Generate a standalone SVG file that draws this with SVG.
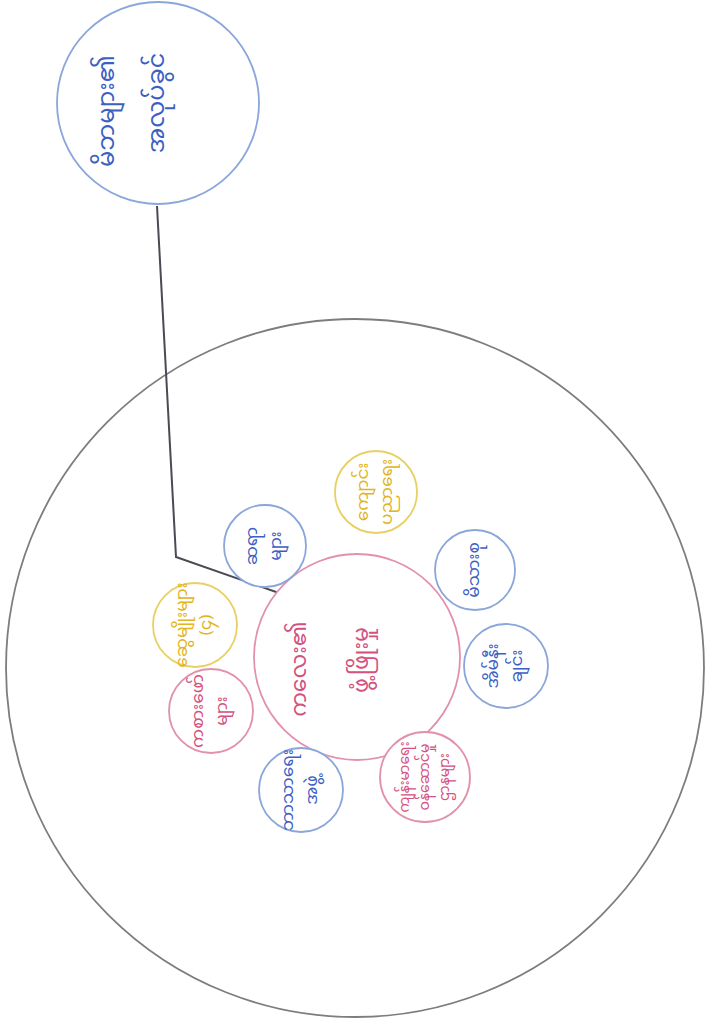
<svg xmlns="http://www.w3.org/2000/svg" width="707" height="1020" viewBox="0 0 707 1020">
<style>
  text { font-family: "Noto Sans Myanmar", "Noto Sans", "DejaVu Sans", sans-serif; text-anchor: middle; dominant-baseline: central; }
  .cb { fill: #ffffff; stroke: #8aa6da; stroke-width: 1.8; }
  .cp { fill: #ffffff; stroke: #e290b0; stroke-width: 1.8; }
  .cy { fill: #ffffff; stroke: #e8d064; stroke-width: 1.8; }
  .tb { fill: #3d5fc2; font-size: 17px; }
  .tp { fill: #d4527e; font-size: 17px; }
  .ty { fill: #e2b422; font-size: 17px; }
  .conn { fill: none; stroke: #4a4a52; stroke-width: 2; }
</style>
<rect width="707" height="1020" fill="#ffffff"/>
<g id="outer">
  <circle cx="355" cy="668" r="349" fill="none" stroke="#7d7d7d" stroke-width="1.8"/>
</g>
<g id="connectors">
  <polyline class="conn" points="157,206 176,557 279,593"/>
</g>
<g id="top-node">
  <circle cx="158" cy="103" r="101" class="cb"/>
  <g transform="translate(158,103) rotate(-90)">
    <text class="tb" x="-8" y="-50" style="font-size:24px">မိဘများ၏</text>
    <text class="tb" x="0" y="0" style="font-size:24px">အလုပ်ခွင်</text>
  </g>
</g>
<g id="center-node">
  <circle cx="357" cy="657" r="103" class="cp"/>
  <g transform="translate(357,657) rotate(-90)">
    <text class="tp" x="-12" y="-56" style="font-size:22px">ကလေး၏</text>
    <text class="tp" x="-3" y="6" style="font-size:22px">ဖွံ့ဖြိုးမှု</text>
  </g>
</g>
<g id="node-teacher">
  <circle cx="265" cy="546" r="41" class="cb"/>
  <g transform="translate(265,546) rotate(-90)">
    <text class="tb" x="0" y="-12">ဆရာ</text>
    <text class="tb" x="0" y="12">များ</text>
  </g>
</g>
<g id="node-school">
  <circle cx="376" cy="492" r="41" class="cy"/>
  <g transform="translate(376,492) rotate(-90)">
    <text class="ty" x="0" y="-12">ကျောင်း</text>
    <text class="ty" x="0" y="12">ပညာရေး</text>
  </g>
</g>
<g id="node-family">
  <circle cx="475" cy="570" r="40" class="cb"/>
  <g transform="translate(475,570) rotate(-90)">
    <text class="tb" x="0" y="0">မိသားစု</text>
  </g>
</g>
<g id="node-neighbours">
  <circle cx="506" cy="666" r="42" class="cb"/>
  <g transform="translate(506,666) rotate(-90)">
    <text class="tb" x="0" y="-12">အိမ်နီး</text>
    <text class="tb" x="0" y="12">ချင်း</text>
  </g>
</g>
<g id="node-health">
  <circle cx="425" cy="777" r="45" class="cp"/>
  <g transform="translate(425,777) rotate(-90)">
    <text class="tp" x="0" y="-20" style="font-size:14px">ကျန်းမာရေး</text>
    <text class="tp" x="0" y="0" style="font-size:14px">ဝန်ဆောင်မှု</text>
    <text class="tp" x="0" y="20" style="font-size:14px">ဌာနများ</text>
  </g>
</g>
<g id="node-religion">
  <circle cx="301" cy="790" r="42" class="cb"/>
  <g transform="translate(301,790) rotate(-90)">
    <text class="tb" x="0" y="-12">ဘာသာရေး</text>
    <text class="tb" x="0" y="12">အဖွဲ့</text>
  </g>
</g>
<g id="node-playmates">
  <circle cx="211" cy="711" r="42" class="cp"/>
  <g transform="translate(211,711) rotate(-90)">
    <text class="tp" x="0" y="-12">ကစားဖော်</text>
    <text class="tp" x="0" y="12">များ</text>
  </g>
</g>
<g id="node-relatives">
  <circle cx="195" cy="625" r="42" class="cy"/>
  <g transform="translate(195,625) rotate(-90)">
    <text class="ty" x="0" y="-12">ဆွေမျိုးများ</text>
    <text class="ty" x="0" y="12">(၄)</text>
  </g>
</g>
</svg>
